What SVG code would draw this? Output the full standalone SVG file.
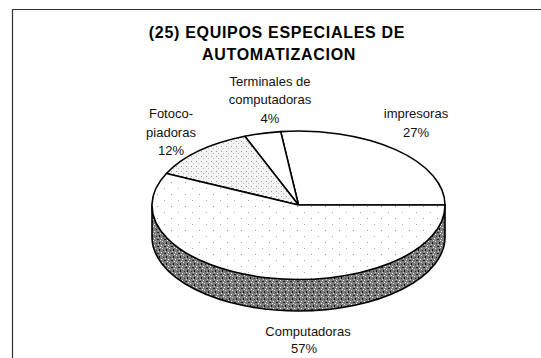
<svg xmlns="http://www.w3.org/2000/svg" width="541" height="358" viewBox="0 0 541 358">
<style>
.t{font-family:"Liberation Sans",Arial,sans-serif;font-weight:bold;font-size:16px;letter-spacing:0.7px;fill:#000;text-anchor:middle}
.l{font-family:"Liberation Sans",Arial,sans-serif;font-size:13px;fill:#111;text-anchor:middle}
.s{stroke:#000;stroke-width:1.6;stroke-linejoin:round}
</style>
<defs>
<pattern id="dark" width="7" height="7" patternUnits="userSpaceOnUse">
<rect width="7" height="7" fill="#7c7c7c"/>
<rect x="0" y="0" width="1" height="1" fill="#fff"/>
<rect x="3" y="1" width="2" height="1" fill="#222"/>
<rect x="1" y="3" width="1" height="1" fill="#ddd"/>
<rect x="5" y="4" width="1" height="2" fill="#111"/>
<rect x="2" y="5" width="1" height="1" fill="#333"/>
<rect x="6" y="2" width="1" height="1" fill="#eee"/>
<rect x="4" y="6" width="1" height="1" fill="#ccc"/>
</pattern>
<pattern id="light" width="5" height="5" patternUnits="userSpaceOnUse">
<rect width="5" height="5" fill="#f4f4f4"/>
<rect x="1" y="1" width="1" height="1" fill="#999"/>
<rect x="3" y="3" width="1" height="1" fill="#bbb"/>
</pattern>
<pattern id="vlight" width="14" height="12" patternUnits="userSpaceOnUse">
<rect width="14" height="12" fill="#fff"/>
<rect x="3" y="2" width="1" height="1" fill="#999"/>
<rect x="10" y="8" width="1" height="1" fill="#aaa"/>
</pattern>
</defs>
<g id="frame">
<path d="M12.5,358 L12.5,9.5 L541,9.5" fill="none" stroke="#333" stroke-width="1.2"/>
</g>
<g id="title">
<text class="t" x="277" y="38">(25) EQUIPOS ESPECIALES DE</text>
<text class="t" x="279" y="60">AUTOMATIZACION</text>
</g>
<g id="side">
<path class="s" fill="url(#dark)" d="M152,205 A146.5,74 0 0 0 445,205 L445,237 A146.5,74 0 0 1 152,237 Z"/>
</g>
<g id="impresoras">
<path class="s" fill="#fff" d="M298.5,205 L445,205 A146.5,74 0 0 0 280.7,131.6 Z"/>
<text class="l" x="416" y="118">impresoras</text>
<text class="l" x="416" y="137">27%</text>
</g>
<g id="terminales">
<path class="s" fill="#fff" d="M298.5,205 L280.7,131.6 A146.5,74 0 0 0 244.8,136.2 Z"/>
<text class="l" x="270" y="86">Terminales de</text>
<text class="l" x="270" y="104">computadoras</text>
<text class="l" x="270" y="123">4%</text>
</g>
<g id="fotocopiadoras">
<path class="s" fill="url(#light)" d="M298.5,205 L244.8,136.2 A146.5,74 0 0 0 166.4,173.5 Z"/>
<text class="l" x="171" y="118">Fotoco-</text>
<text class="l" x="171" y="137">piadoras</text>
<text class="l" x="171" y="155">12%</text>
</g>
<g id="computadoras">
<path class="s" fill="url(#vlight)" d="M298.5,205 L166.4,173.5 A146.5,74 0 1 0 445,205 Z"/>
<text class="l" x="308" y="336">Computadoras</text>
<text class="l" x="304" y="353">57%</text>
</g>
</svg>
